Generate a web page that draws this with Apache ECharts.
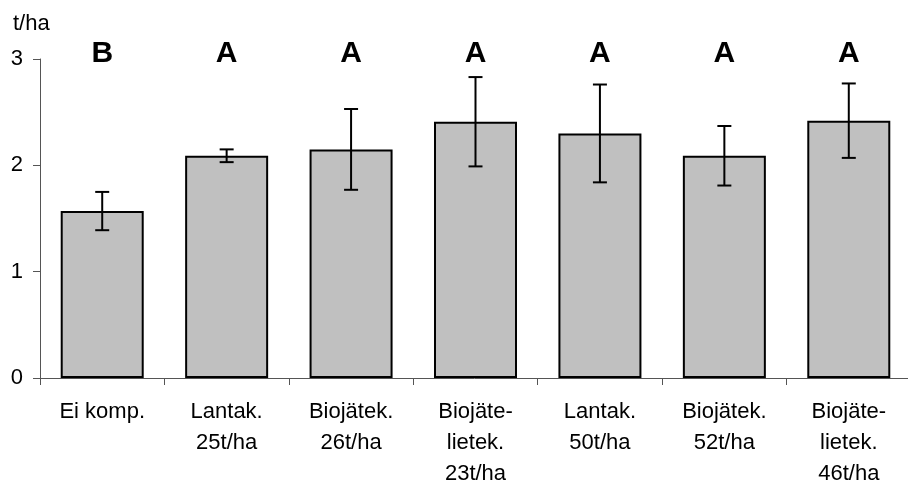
<!DOCTYPE html>
<html>
<head>
<meta charset="utf-8">
<script src="https://cdn.jsdelivr.net/npm/echarts@6/dist/echarts.min.js"></script>
<style>
html,body{margin:0;padding:0;background:#fff;}
#c{width:908px;height:482px;}
</style>
</head>
<body>
<div id="c"></div>
<script>
const categories = ['Ei komp.', 'Lantak.\n25t/ha', 'Biojätek.\n26t/ha', 'Biojäte-\nlietek.\n23t/ha', 'Lantak.\n50t/ha', 'Biojätek.\n52t/ha', 'Biojäte-\nlietek.\n46t/ha'];
const means = [1.57, 2.09, 2.15, 2.41, 2.30, 2.09, 2.42];
const errors = [0.18, 0.06, 0.38, 0.42, 0.46, 0.28, 0.35];
const letters = ['B', 'A', 'A', 'A', 'A', 'A', 'A'];
const yTicks = [0, 1, 2, 3];

const FONT = 'Liberation Sans, Arial, Helvetica, sans-serif';
const chart = echarts.init(document.getElementById('c'));

const errData = means.map((m, i) => [i, m - errors[i], m + errors[i]]);
const letterData = letters.map((l, i) => [i, yTicks[yTicks.length - 1], l]);

chart.setOption({
  animation: false,
  backgroundColor: '#fff',
  title: {
    text: 't/ha', left: 8, top: 8,
    textStyle: {fontFamily: FONT, fontSize: 22, fontWeight: 'normal', color: '#000'}
  },
  grid: {left: 40, top: 59, right: -3, bottom: 104, containLabel: false, outerBoundsMode: 'none'},
  xAxis: {
    type: 'category',
    data: categories,
    boundaryGap: true,
    axisLine: {lineStyle: {color: '#555', width: 1}},
    axisTick: {show: true, length: 7, lineStyle: {color: '#555'}},
    axisLabel: {
      interval: 0, margin: 18, color: '#000',
      fontFamily: FONT, fontSize: 22, lineHeight: 31, align: 'center', verticalAlign: 'top'
    }
  },
  yAxis: {
    type: 'value',
    min: yTicks[0], max: yTicks[yTicks.length - 1], interval: 1,
    splitLine: {show: false},
    axisLine: {show: true, lineStyle: {color: '#555', width: 1}},
    axisTick: {show: true, length: 7, lineStyle: {color: '#555'}},
    axisLabel: {margin: 17, color: '#000', fontFamily: FONT, fontSize: 22}
  },
  series: [
    {
      type: 'bar',
      data: means,
      barWidth: 83,
      itemStyle: {color: '#C0C0C0', borderColor: '#000', borderWidth: 2},
      z: 2
    },
    {
      type: 'custom',
      data: errData,
      z: 3,
      renderItem: function (params, api) {
        const x = api.value(0);
        const lo = api.coord([x, api.value(1)]);
        const hi = api.coord([x, api.value(2)]);
        const cap = 7;
        const st = {stroke: '#000', lineWidth: 2};
        return {
          type: 'group',
          children: [
            {type: 'line', shape: {x1: lo[0], y1: lo[1], x2: hi[0], y2: hi[1]}, style: st},
            {type: 'line', shape: {x1: hi[0] - cap, y1: hi[1], x2: hi[0] + cap, y2: hi[1]}, style: st},
            {type: 'line', shape: {x1: lo[0] - cap, y1: lo[1], x2: lo[0] + cap, y2: lo[1]}, style: st}
          ]
        };
      }
    },
    {
      type: 'custom',
      data: letterData,
      z: 4,
      renderItem: function (params, api) {
        const p = api.coord([api.value(0), api.value(1)]);
        return {
          type: 'text',
          x: p[0], y: p[1] - 5,
          style: {
            text: letterData[params.dataIndex][2],
            fontFamily: FONT, fontSize: 30, fontWeight: 'bold', fill: '#000',
            align: 'center', verticalAlign: 'middle'
          }
        };
      }
    }
  ]
});
</script>
</body>
</html>
